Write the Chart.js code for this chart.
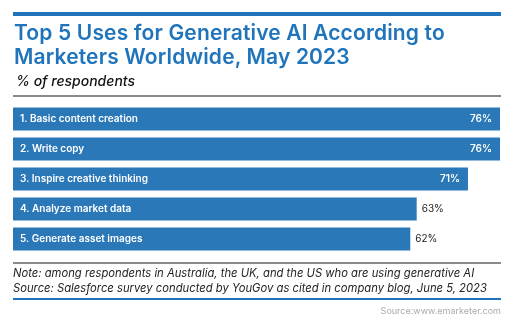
<!DOCTYPE html>
<html><head><meta charset="utf-8">
<script src="https://cdn.jsdelivr.net/npm/chart.js@4"></script>
<style>
html,body{margin:0;padding:0;background:#fff;width:512px;height:329px;overflow:hidden;font-family:Inter,"Open Sans",sans-serif;}
#wrap{position:relative;width:512px;height:329px;}
canvas{position:absolute;left:0;top:0;}
.rule{position:absolute;left:13px;width:488px;}
#title{position:absolute;left:14px;top:21px;color:#1f74bb;font-weight:600;font-size:21px;line-height:24px;letter-spacing:0.15px;white-space:nowrap;}
#sub{position:absolute;left:16px;top:72px;color:#111;font-style:italic;font-weight:500;font-size:14px;white-space:nowrap;}
#note{position:absolute;left:13px;top:266px;color:#222;font-style:italic;font-size:11.25px;line-height:14.5px;white-space:nowrap;}
#src{position:absolute;right:11px;top:305px;color:#aaa;font-size:9px;white-space:nowrap;}
</style></head>
<body><div id="wrap">
<canvas id="c" width="512" height="329"></canvas>
<div class="rule" style="top:12px;height:4px;background:#1f74bb"></div>
<div id="title">Top 5 Uses for Generative AI According to<br>Marketers Worldwide, May 2023</div>
<div id="sub">% of respondents</div>
<div class="rule" style="top:95px;height:2px;background:#8a8a8a"></div>
<div class="rule" style="top:262px;height:2px;background:#8a8a8a"></div>
<div id="note">Note: among respondents in Australia, the UK, and the US who are using generative AI<br>Source: Salesforce survey conducted by YouGov as cited in company blog, June 5, 2023</div>
<div class="rule" style="top:298px;height:2px;background:#1f74bb"></div>
<div id="src">Source:www.emarketer.com</div>
</div>
<script>
const categories = ["1. Basic content creation","2. Write copy","3. Inspire creative thinking","4. Analyze market data","5. Generate asset images"];
const values = [76, 76, 71, 63, 62];
const valueLabels = ["76%","76%","71%","63%","62%"];

const labelPlugin = {
  id: 'barLabels',
  afterDatasetsDraw(chart) {
    const ctx = chart.ctx;
    const meta = chart.getDatasetMeta(0);
    ctx.save();
    ctx.textBaseline = 'middle';
    meta.data.forEach((bar, i) => {
      const left = chart.scales.x.getPixelForValue(0);
      ctx.font = '600 10px Inter, "Open Sans", sans-serif';
      ctx.fillStyle = '#fff';
      ctx.textAlign = 'left';
      ctx.fillText(categories[i], left + 7, bar.y);
      if (values[i] >= 70) {
        ctx.textAlign = 'right';
        ctx.fillText(valueLabels[i], bar.x - 8, bar.y);
      } else {
        ctx.font = '400 10px Inter, "Open Sans", sans-serif';
        ctx.fillStyle = '#222';
        ctx.textAlign = 'left';
        ctx.fillText(valueLabels[i], bar.x + 5, bar.y);
      }
    });
    ctx.restore();
  }
};

new Chart(document.getElementById('c'), {
  type: 'bar',
  data: { labels: categories, datasets: [{ data: values, backgroundColor: '#2a78b8', borderWidth: 0, barPercentage: 0.77, categoryPercentage: 1 }] },
  options: {
    indexAxis: 'y', responsive: false, animation: false,
    layout: { padding: { left: 13, right: 12, top: 104, bottom: 75 } },
    plugins: { legend: { display: false }, tooltip: { enabled: false } },
    scales: {
      x: { display: false, min: 0, max: 76 },
      y: { display: false }
    }
  },
  plugins: [labelPlugin]
});
</script>
</body></html>
